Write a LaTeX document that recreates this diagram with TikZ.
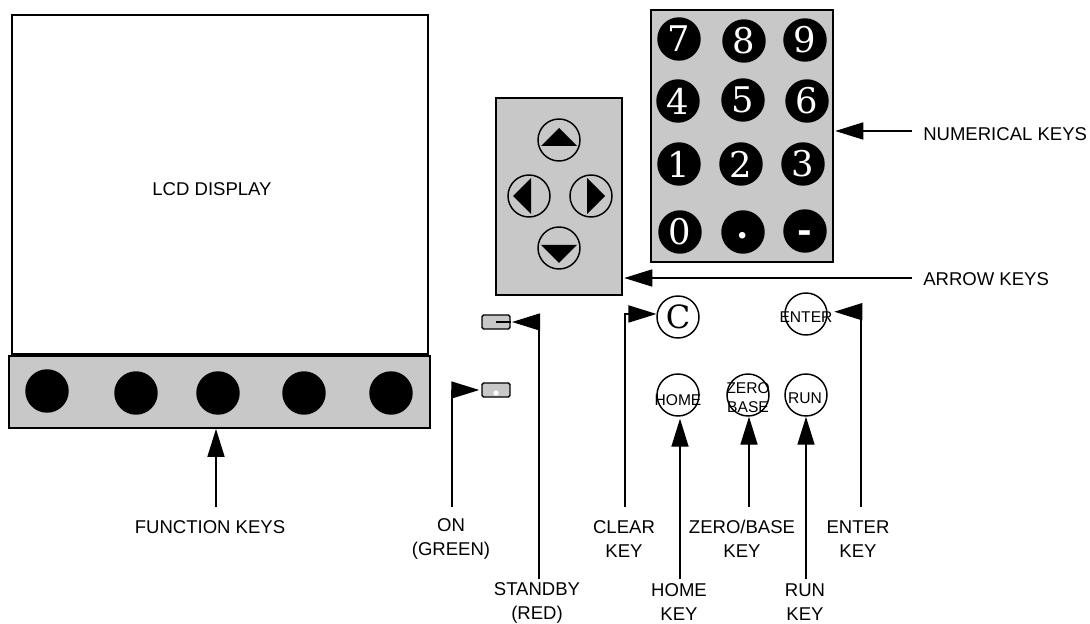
\documentclass[tikz,border=0pt]{standalone}
\usepackage{fontspec}
\usepackage{tikz}
\usepackage{xcolor}
\setsansfont{Liberation Sans}
\newfontfamily\keyfont{DejaVu Serif}
\usetikzlibrary{arrows.meta, positioning, calc}
\definecolor{cPanel}{RGB}{200,200,200}
\tikzset{
	panel/.style    ={rectangle, draw=black, line width=1.4pt, fill=cPanel, inner sep=0pt},
	softkey/.style  ={circle, fill=black, minimum size=32.6pt, inner sep=0pt},
	numkey/.style   ={circle, fill=black, text=white, minimum size=32.6pt, inner sep=0pt, font=\keyfont\fontsize{26.5}{27}\selectfont},
	ringkey/.style  ={circle, draw=black, line width=1.1pt, minimum size=31.5pt, inner sep=0pt},
	ledbox/.style   ={rectangle, rounded corners=1.2pt, draw=black, line width=1.1pt, fill=cPanel, minimum width=21pt, minimum height=10.5pt, inner sep=0pt},
	keytxt/.style   ={inner sep=0pt, align=center, font=\sffamily\fontsize{11.7}{14.2}\selectfont},
	caption/.style  ={inner sep=0pt, align=center, font=\sffamily\fontsize{13.9}{18}\selectfont},
	callout/.style  ={-{Triangle[length=21pt, width=12.8pt]}, line width=1.1pt},
}
\begin{document}
\begin{tikzpicture}[x=0.75pt, y=-0.75pt]
	\useasboundingbox (0,0) rectangle (1090,624);
	% display and function key strip
	\node[panel, fill=white, minimum width=312pt, minimum height=254pt] (lcd) at (220,184.5) {};
	\node[caption] (lcdTxt) at (212,189) {LCD DISPLAY};
	\node[panel, minimum width=315.7pt, minimum height=54pt] (fnPanel) at (219.5,392) {};
	\foreach \i/\x/\y in {1/47/391, 2/136/393, 3/218/393, 4/304/393, 5/391/393} {
		\node[softkey] (fn\i) at (\x,\y) {};
	}
	% keypad panels
	\node[panel, minimum width=136.5pt, minimum height=189pt] (numPanel) at (742,136) {};
	\node[panel, minimum width=94.5pt, minimum height=147.8pt] (arrowPanel) at (559,196.5) {};
	\foreach \name/\lab/\x/\y in {
		k7/7/679/39, k8/8/744/41, k9/9/805/40,
		k4/4/678/101, k5/5/743/100, k6/6/807/101,
		k1/1/679/164, k2/2/741/164, k3/3/803/164,
		k0/0/680/232, kDot/{\raisebox{-5pt}[0pt][0pt]{\textbf{.}}}/743/232, kDash/{\raisebox{-9pt}[0pt][0pt]{\textbf{-}}}/805/231} {
		\node[numkey] (\name) at (\x,\y) {\lab};
	}
	\foreach \name/\x/\y/\ang/\off in {
		keyUp/559/140/0/9, keyDown/559/248/180/11.2,
		keyLeft/529/196/90/12, keyRight/591/196/-90/10.5} {
		\node[ringkey] (\name) at (\x,\y) {};
		\begin{scope}[shift={(\name)}, rotate=\ang]
			\fill (0pt,\off pt) -- (13.5pt,\off pt-13.5pt) -- (-13.5pt,\off pt-13.5pt) -- cycle;
		\end{scope}
	}
	% indicators
	\node[ledbox] (ledStandby) at (496,322) {};
	\node[ledbox] (ledOn) at (496,390) {};
	\fill[white] (496,393) circle (2pt);
	\draw[line width=1.1pt] (ledStandby.center) -- (ledStandby.east);
	% command keys
	\node[ringkey] (keyClear) at (678,317) {\keyfont\fontsize{24}{24}\selectfont C};
	\node[ringkey] (keyEnter) at (806,314) {};
	\node[ringkey] (keyHome) at (678,395) {};
	\node[ringkey] (keyZero) at (748,395) {};
	\node[ringkey] (keyRun) at (806,395) {};
	\node[keytxt] (txtEnter) at (806,317) {ENTER};
	\node[keytxt] (txtHome) at (678,400) {HOME};
	\node[keytxt] (txtZero) at (748,398) {ZERO\\BASE};
	\node[keytxt] (txtRun) at (805,398) {RUN};
	% captions
	\node[caption] (capNum) at (923,134) [anchor=west] {NUMERICAL KEYS};
	\node[caption] (capArrow) at (923,279) [anchor=west] {ARROW KEYS};
	\node[caption] (capFn) at (210,527) {FUNCTION KEYS};
	\node[caption] (capOn) at (451,539) {ON\\(GREEN)};
	\node[caption] (capStandby) at (537,603) {STANDBY\\(RED)};
	\node[caption] (capClear) at (624,539) {CLEAR\\KEY};
	\node[caption] (capHome) at (679,602) {HOME\\KEY};
	\node[caption] (capZero) at (742,539) {ZERO/BASE\\KEY};
	\node[caption] (capRun) at (805,602) {RUN\\KEY};
	\node[caption] (capEnter) at (858,539) {ENTER\\KEY};
	% free ends of the callouts
	\coordinate (endNum) at (912,131);
	\coordinate (endArrow) at (912,278);
	\coordinate (endFn) at (216,507);
	\coordinate (endOn) at (452,507);
	\coordinate (endStandby) at (539,579);
	\coordinate (endClear) at (625,507);
	\coordinate (endHome) at (680,579);
	\coordinate (endZero) at (749,507);
	\coordinate (endRun) at (806,579);
	\coordinate (endEnter) at (861,507);
	% callouts
	\draw[callout, shorten >=1pt] (endNum) -- (endNum -| numPanel.east);
	\draw[callout, shorten >=1pt] (endArrow) -- (endArrow -| arrowPanel.east);
	\draw[callout] (endFn) -- (endFn |- fnPanel.south);
	\draw[callout, shorten >=1.5pt] (endOn) |- (ledOn.west);
	\draw[callout, shorten >=1pt] (endStandby) |- (ledStandby.east);
	\draw[callout] (endClear) |- (keyClear.172);
	\draw[callout, shorten >=1.5pt] (endHome) -- (endHome |- keyHome.south);
	\draw[callout] (endZero) -- (endZero |- keyZero.south);
	\draw[callout] (endRun) -- (endRun |- keyRun.south);
	\draw[callout, shorten >=5pt] (endEnter) |- (keyEnter.6);
\end{tikzpicture}
\end{document}
